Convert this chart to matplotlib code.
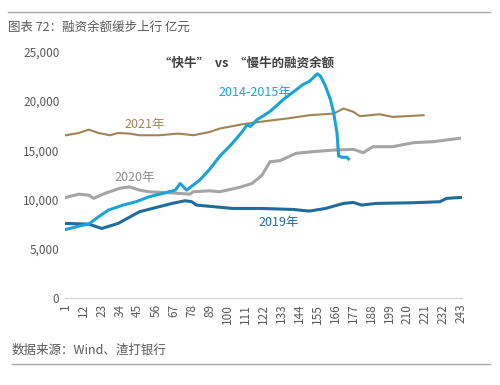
import matplotlib
matplotlib.use("Agg")
import matplotlib.pyplot as plt
from matplotlib.lines import Line2D

plt.rcParams['font.family'] = ['Noto Sans CJK SC', 'DejaVu Sans']

# ---- data (index, 亿元) ----
x_1415 = [1, 9, 15, 21, 27, 36, 44, 52, 62, 68, 71, 75, 83, 89, 95, 103, 109, 112, 114, 118,
          126, 134, 142, 146, 150, 155, 157, 160, 163, 165, 167, 168, 170, 173, 174]
y_1415 = [6980, 7320, 7520, 8260, 8940, 9450, 9790, 10300, 10700, 10970, 11640, 10970, 11990,
          13070, 14360, 15720, 16900, 17590, 17420, 18100, 18940, 20130, 21140, 21650, 21990,
          22760, 22500, 21480, 20130, 18760, 16730, 14430, 14300, 14300, 14130]

x_2019 = [1, 15, 23, 33, 46, 58, 66, 74, 78, 81, 103, 120, 140, 150, 160, 171, 177, 182, 191,
          212, 230, 234, 243]
y_2019 = [7590, 7520, 7080, 7590, 8770, 9280, 9620, 9890, 9790, 9450, 9110, 9110, 9010, 8840,
          9110, 9620, 9720, 9450, 9620, 9680, 9790, 10130, 10230]

x_2020 = [1, 9, 15, 18, 25, 34, 40, 46, 52, 64, 77, 79, 89, 95, 107, 115, 121, 126, 132, 142,
          152, 165, 177, 183, 189, 201, 214, 226, 242]
y_2020 = [10230, 10560, 10460, 10130, 10640, 11150, 11300, 10970, 10800, 10700, 10560, 10800,
          10900, 10800, 11230, 11640, 12470, 13850, 13950, 14700, 14860, 15030, 15100, 14760,
          15370, 15370, 15780, 15880, 16220]

x_2021 = [1, 9, 15, 21, 28, 33, 40, 46, 58, 70, 79, 89, 95, 109, 124, 136, 150, 165, 171, 177,
          181, 193, 201, 220]
y_2021 = [16530, 16760, 17100, 16760, 16530, 16760, 16700, 16530, 16530, 16700, 16530, 16860,
          17200, 17640, 17980, 18220, 18560, 18730, 19240, 18900, 18460, 18660, 18390, 18560]

xticks = list(range(1, 244, 11))
yticks = [0, 5000, 10000, 15000, 20000, 25000]

c_1415 = '#1BA3D6'
c_2019 = '#1F6B9A'
c_2020 = '#A5A5A5'
c_2021 = '#A08456'
txt = '#595959'

fig = plt.figure(figsize=(5.0, 3.85), dpi=100)
ax = fig.add_axes([0.13, 0.2252, 0.794, 0.6405])

ax.plot(x_2021, y_2021, color=c_2021, lw=1.5)
ax.plot(x_2020, y_2020, color=c_2020, lw=2.2)
ax.plot(x_2019, y_2019, color=c_2019, lw=2.2)
ax.plot(x_1415, y_1415, color=c_1415, lw=2.2)

ax.set_xlim(0.5, 243.5)
ax.set_ylim(0, 25000)
ax.set_xticks(xticks)
ax.set_xticklabels([str(v) for v in xticks], rotation=90, fontsize=8.5, color=txt)
ax.set_yticks(yticks)
ax.set_yticklabels([f'{v:,}' for v in yticks], fontsize=8.5, color=txt)
ax.tick_params(axis='both', length=0, pad=4)
for s in ['top', 'right', 'left']:
    ax.spines[s].set_visible(False)
ax.spines['bottom'].set_color('#D0D0D0')
ax.spines['bottom'].set_linewidth(0.8)

ax.text(49, 17570, '2021年', color=c_2021, fontsize=9, ha='center', va='center')
ax.text(43, 12200, '2020年', color='#8C8C8C', fontsize=9, ha='center', va='center')
ax.text(117, 20820, '2014-2015年', color=c_1415, fontsize=9, ha='center', va='center')
ax.text(131, 7640, '2019年', color=c_2019, fontsize=9, ha='center', va='center')

fig.text(0.494, 0.836, '“快牛”  vs  “慢牛的融资余额', fontsize=9, fontweight='bold',
         color='#404040', ha='center', va='center')
fig.text(0.016, 1 - 27 / 385, '图表 72：融资余额缓步上行 亿元', fontsize=9, color=txt,
         ha='left', va='center')
fig.text(0.024, 1 - 350 / 385, '数据来源：Wind、渣打银行', fontsize=9, color=txt,
         ha='left', va='center')

fig.add_artist(Line2D([0.016, 0.98], [1 - 12 / 385, 1 - 12 / 385], color='#A8A8A8', lw=1.0,
                      transform=fig.transFigure))
fig.add_artist(Line2D([0.024, 0.98], [1 - 364 / 385, 1 - 364 / 385], color='#A8A8A8', lw=1.0,
                      transform=fig.transFigure))

fig.savefig('out.png', dpi=100, facecolor='white')
